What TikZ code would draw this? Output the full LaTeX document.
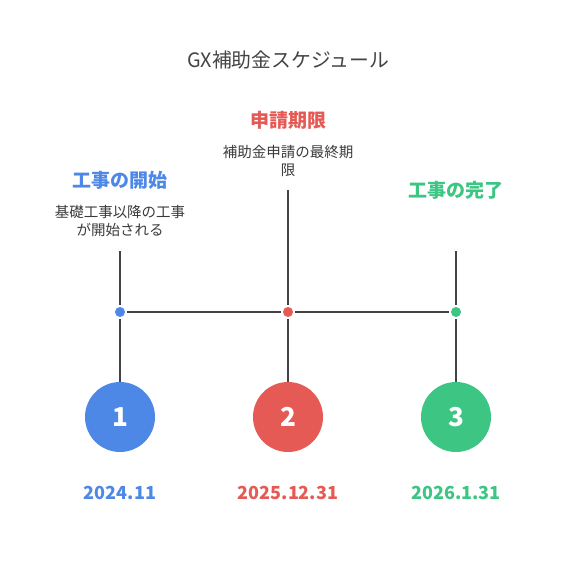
\documentclass[tikz,border=0pt]{standalone}
\usepackage{fontspec}
\setmainfont{Noto Sans CJK JP}
\definecolor{cblue}{HTML}{4E88E7}
\definecolor{cred}{HTML}{E55A55}
\definecolor{cgreen}{HTML}{3CC583}
\definecolor{cline}{HTML}{444444}
\definecolor{ctext}{HTML}{3A3A3A}
\begin{document}
\begin{tikzpicture}[x=1pt,y=-1pt,
  big/.style={circle,minimum size=70pt,inner sep=0pt,text=white,font=\fontsize{26}{26}\selectfont\bfseries},
  dot/.style={circle,minimum size=10pt,inner sep=0pt,outer sep=2pt},
  head/.style={font=\fontsize{19}{19}\selectfont\bfseries},
  sub/.style={font=\fontsize{14.5}{18}\selectfont,text=ctext,align=center},
  datel/.style={font=\fontsize{18}{18}\selectfont\bfseries},
  conn/.style={draw=cline,line width=2.5pt}]
\useasboundingbox (0,0) rectangle (576,576);
\node[font=\fontsize{19.8}{20}\selectfont,text=cline] (title) at (288,60) {GX補助金スケジュール};
% headings
\node[head,text=cblue] (h1) at (120,180) {工事の開始};
\node[sub] (s1) at (120,221.5) {基礎工事以降の工事\\が開始される};
\node[head,text=cred] (h2) at (288,120) {申請期限};
\node[sub] (s2) at (288,161) {補助金申請の最終期\\限};
\node[head,text=cgreen] (h3) at (456,190) {工事の完了};
% top coordinates
\coordinate (t1) at (120,251);
\coordinate (t2) at (288,190);
\coordinate (t3) at (456,251);
% dots
\node[dot,fill=cblue] (d1) at (120,312) {};
\node[dot,fill=cred] (d2) at (288,312) {};
\node[dot,fill=cgreen] (d3) at (456,312) {};
% circles
\node[big,fill=cblue] (c1) at (120,417) {1};
\node[big,fill=cred] (c2) at (288,417) {2};
\node[big,fill=cgreen] (c3) at (456,417) {3};
% connectors
\draw[conn] (t1) -- (d1);
\draw[conn] (t2) -- (d2);
\draw[conn] (t3) -- (d3);
\draw[conn] (d1) -- (d2);
\draw[conn] (d2) -- (d3);
\draw[conn] (d1) -- (c1);
\draw[conn] (d2) -- (c2);
\draw[conn] (d3) -- (c3);
% dates
\node[datel,text=cblue] (y1) at (120,493) {2024.11};
\node[datel,text=cred] (y2) at (288,493) {2025.12.31};
\node[datel,text=cgreen] (y3) at (456,493) {2026.1.31};
\end{tikzpicture}
\end{document}
